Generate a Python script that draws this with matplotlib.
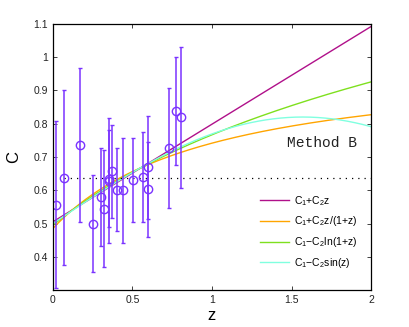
import numpy as np
import matplotlib
matplotlib.use("Agg")
import matplotlib.pyplot as plt
from matplotlib.ticker import FuncFormatter

# Data points (redshift, C, error)
z_data = [0.02, 0.067, 0.172, 0.25, 0.303, 0.322, 0.350, 0.352, 0.371, 0.403, 0.443,
          0.503, 0.568, 0.600, 0.600, 0.732, 0.771, 0.803]
c_data = [0.557, 0.638, 0.736, 0.499, 0.579, 0.545, 0.629, 0.635, 0.657, 0.602, 0.600,
          0.631, 0.641, 0.603, 0.669, 0.728, 0.838, 0.819]
c_err = [0.251, 0.263, 0.230, 0.146, 0.148, 0.175, 0.187, 0.145, 0.140, 0.126, 0.158,
         0.126, 0.135, 0.143, 0.155, 0.180, 0.163, 0.212]

# Fit parameters for each model (C1, C2)
fit_linear = (0.505, 0.2935)        # C1 + C2 z
fit_ratio = (0.485, 0.513)          # C1 + C2 z/(1+z)
fit_log = (0.495, 0.392)            # C1 - C2 ln(1+z)  (C2 negative)
fit_sin = (0.50, 0.32)              # C1 - C2 sin(z)   (C2 negative)

mean_level = 0.636
mean_start = 0.07

labels = [r'C$_1$+C$_2$z', r'C$_1$+C$_2$z/(1+z)', r'C$_1$$-$C$_2$ln(1+z)', r'C$_1$$-$C$_2$sin(z)']
colors = ['#b0108a', '#ffa500', '#7ee01e', '#80ffe0']

xticks = [0, 0.5, 1, 1.5, 2]
yticks = [0.4, 0.5, 0.6, 0.7, 0.8, 0.9, 1.0, 1.1]

plt.rcParams['font.family'] = ['Liberation Sans', 'DejaVu Sans']
plt.rcParams['mathtext.fontset'] = 'custom'
plt.rcParams['mathtext.rm'] = 'Liberation Sans'
plt.rcParams['mathtext.it'] = 'Liberation Sans'

fig = plt.figure(figsize=(4.10, 3.27), dpi=100)
ax = fig.add_axes([0.129, 0.113, 0.776, 0.814])

zz = np.linspace(0, 2, 300)
curves = [
    fit_linear[0] + fit_linear[1] * zz,
    fit_ratio[0] + fit_ratio[1] * zz / (1 + zz),
    fit_log[0] + fit_log[1] * np.log(1 + zz),
    fit_sin[0] + fit_sin[1] * np.sin(zz),
]
handles = []
for y, col, lab in zip(curves, colors, labels):
    h, = ax.plot(zz, y, color=col, lw=1.0, label=lab)
    handles.append(h)

ax.plot([mean_start, 2], [mean_level, mean_level], color='black', lw=0.9,
        linestyle=(0, (1, 4)))

ax.errorbar(z_data, c_data, yerr=c_err, fmt='o', mfc='none', mec='#7a33ff',
            ecolor='#7a33ff', ms=6, mew=1.0, elinewidth=1.1, capsize=1.5,
            capthick=1.0)

ax.text(1.47, 0.742, 'Method B', family='Liberation Mono', fontsize=10.5,
        color='#222222', va='center')

ax.set_xlim(0, 2)
ax.set_ylim(0.3, 1.1)
ax.set_xticks(xticks)
ax.set_yticks(yticks)
fmt = FuncFormatter(lambda v, p: ('%g' % round(v, 3)))
ax.xaxis.set_major_formatter(fmt)
ax.yaxis.set_major_formatter(fmt)
ax.tick_params(direction='in', top=True, right=True, labelsize=7.5, length=3,
               width=0.6, colors='#222222')
for s in ax.spines.values():
    s.set_linewidth(0.9)

ax.set_xlabel('z', fontsize=12, labelpad=2)
ax.set_ylabel('C', fontsize=12, labelpad=9)

ax.legend(handles=handles, loc='lower right', bbox_to_anchor=(0.985, 0.04),
          frameon=False, fontsize=7.5, handlelength=2.8, labelspacing=0.65,
          handletextpad=0.45)

fig.savefig('out.png', dpi=100)
